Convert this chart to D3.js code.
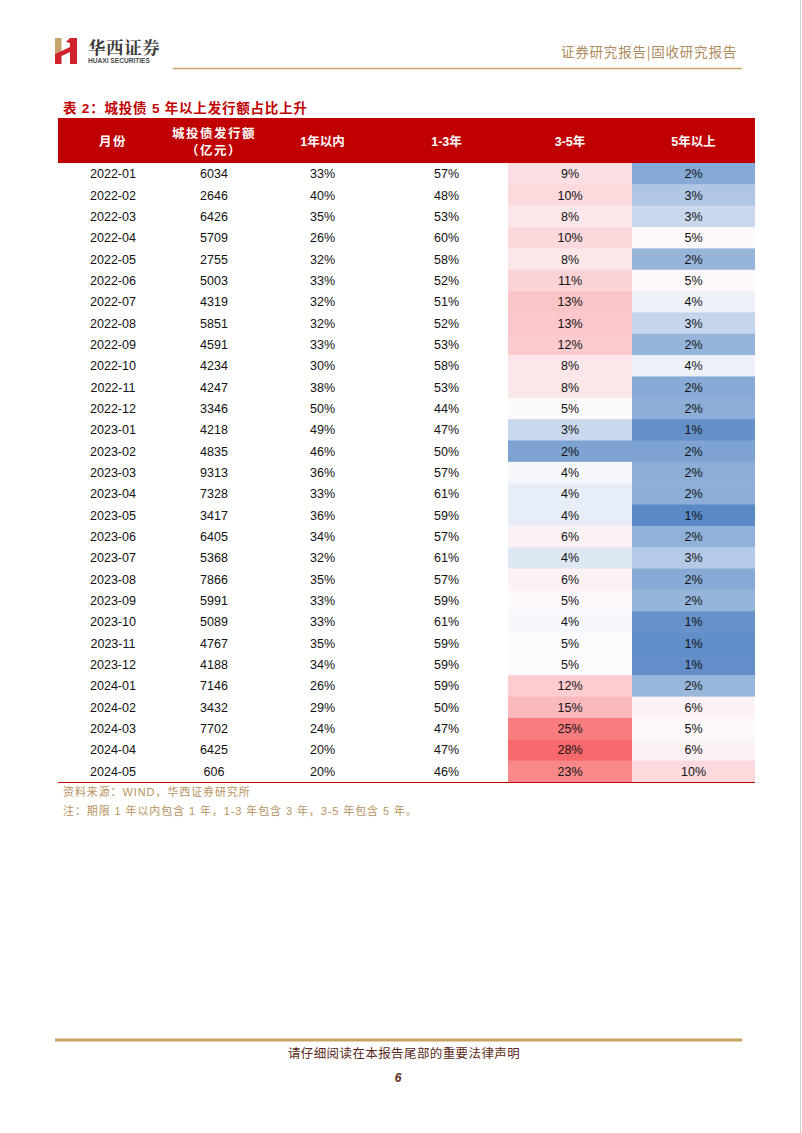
<!DOCTYPE html>
<html>
<head>
<meta charset="utf-8">
<script src="https://cdn.jsdelivr.net/npm/d3@7"></script>
<style>
  body { margin: 0; background: #fff; }
</style>
</head>
<body>
<div id="page"></div>
<script>
const months = [
  "2022-01", "2022-02", "2022-03", "2022-04", "2022-05", "2022-06", "2022-07", "2022-08",
  "2022-09", "2022-10", "2022-11", "2022-12", "2023-01", "2023-02", "2023-03", "2023-04",
  "2023-05", "2023-06", "2023-07", "2023-08", "2023-09", "2023-10", "2023-11", "2023-12",
  "2024-01", "2024-02", "2024-03", "2024-04", "2024-05"
];
// 城投债发行额（亿元）
const issuance = [
  6034, 2646, 6426, 5709, 2755, 5003, 4319, 5851, 4591, 4234, 4247, 3346, 4218, 4835,
  9313, 7328, 3417, 6405, 5368, 7866, 5991, 5089, 4767, 4188, 7146, 3432, 7702, 6425, 606
];
// 占比 (%)
const within1y = [
  33, 40, 35, 26, 32, 33, 32, 32, 33, 30, 38, 50, 49, 46, 36, 33, 36, 34, 32, 35, 33, 33,
  35, 34, 26, 29, 24, 20, 20
];
const y1to3 = [
  57, 48, 53, 60, 58, 52, 51, 52, 53, 58, 53, 44, 47, 50, 57, 61, 59, 57, 61, 57, 59, 61,
  59, 59, 59, 50, 47, 47, 46
];
// the two shaded columns: shown rounded, estimated a little finer from the cell shading
const y3to5 = [
  9.0, 10.0, 8.0, 10.2, 8.0, 11.0, 13.2, 12.9, 12.3, 7.8, 8.0, 4.9, 3.4, 1.9, 4.26, 4.0,
  4.0, 6.0, 3.8, 6.0, 5.0, 4.3, 4.8, 4.8, 12.0, 15.0, 25.0, 28.0, 23.0
];
const over5y = [
  2.1, 2.9, 3.4, 5.0, 2.4, 5.0, 4.1, 3.3, 2.4, 4.1, 2.1, 2.2, 1.4, 1.9, 2.2, 2.2, 1.2,
  2.3, 3.0, 2.1, 2.4, 1.45, 1.3, 1.35, 2.45, 6.0, 5.0, 6.2, 10.0
];
const headers = ["月份", ["城投债发行额", "（亿元）"], "1年以内", "1-3年", "3-5年", "5年以上"];

const width = 802, height = 1133;
const font = "'Liberation Sans', 'Noto Sans CJK SC', sans-serif";
const cjk = "'Noto Sans CJK SC', sans-serif";
const red = "#C00000", gold = "#C9A165", tan = "#B8935F";
const colEdges = [58, 168, 260, 385, 508, 632, 755];
const headTop = 118, rowsTop = 163, rowsBottom = 782;
const colorMid = 4.4;

const svg = d3.select("#page").append("svg")
  .attr("width", width)
  .attr("height", height)
  .attr("viewBox", [0, 0, width, height]);

// page edge
svg.append("line")
  .attr("x1", 800.5).attr("x2", 800.5).attr("y1", 0).attr("y2", height)
  .attr("stroke", "#cfcfcf");

// ---- page header ----
const logo = svg.append("g");
logo.append("path")
  .attr("d", "M55,38 L61.5,38 L61.5,51 L55,54 Z")
  .attr("fill", "#C9A56E");
logo.append("path")
  .attr("d", "M55,54 L61.5,51 L61.5,64 L55,64 Z M61.5,51 L70,47 L70,52 L61.5,56 Z M70,38 L77,38 L77,64 L70,64 Z M66,42 L70,38 L70,43 Z")
  .attr("fill", "#D0202A");
svg.append("text")
  .attr("x", 88).attr("y", 54)
  .attr("font-family", "'Noto Serif CJK SC', " + cjk)
  .attr("font-weight", "bold")
  .attr("font-size", 17.5)
  .attr("letter-spacing", 0.6)
  .attr("fill", "#3d3a3a")
  .text("华西证券");
svg.append("text")
  .attr("x", 88).attr("y", 63)
  .attr("font-family", font)
  .attr("font-weight", "bold")
  .attr("font-size", 6.6)
  .attr("fill", "#4a4a4a")
  .text("HUAXI SECURITIES");
svg.append("text")
  .attr("x", 737).attr("y", 57)
  .attr("text-anchor", "end")
  .attr("font-family", cjk)
  .attr("font-size", 13.5)
  .attr("letter-spacing", 0.8)
  .attr("fill", "#AE8B5C")
  .text("证券研究报告|固收研究报告");
svg.append("line")
  .attr("x1", 173).attr("x2", 742).attr("y1", 68.5).attr("y2", 68.5)
  .attr("stroke", gold).attr("stroke-width", 1.5);

// ---- table title ----
svg.append("text")
  .attr("x", 63).attr("y", 113)
  .attr("font-family", font)
  .attr("font-weight", "bold")
  .attr("font-size", 13.5)
  .attr("letter-spacing", 0.8)
  .attr("fill", red)
  .text("表 2：城投债 5 年以上发行额占比上升");

// ---- header row ----
svg.append("rect")
  .attr("x", colEdges[0]).attr("y", headTop)
  .attr("width", colEdges[6] - colEdges[0]).attr("height", rowsTop - headTop)
  .attr("fill", red);

const head = svg.append("g")
  .attr("font-family", font)
  .attr("font-weight", "bold")
  .attr("font-size", 12.5)
  .attr("fill", "#fff")
  .attr("text-anchor", "middle");

headers.forEach((h, i) => {
  const cx = (colEdges[i] + colEdges[i + 1]) / 2;
  const lines = Array.isArray(h) ? h : [h];
  const mid = (headTop + rowsTop) / 2 + 1;
  lines.forEach((t, j) => {
    head.append("text")
      .attr("x", cx)
      .attr("y", mid + (j - (lines.length - 1) / 2) * 17)
      .attr("dy", "0.36em")
      .attr("letter-spacing", /^[\d-]/.test(t) ? 0 : 1.5)
      .text(t);
  });
});

// ---- body rows ----
const y = d3.scaleBand().domain(months).range([rowsTop, rowsBottom]);

const shaded = y3to5.concat(over5y);
const color = d3.scaleLinear()
  .domain([d3.min(shaded), colorMid, d3.max(shaded)])
  .range(["#5A8AC6", "#FCFCFF", "#F8696B"]);

const pct = v => `${Math.round(v)}%`;
const columns = [
  { values: months, fmt: d => d },
  { values: issuance, fmt: d => d },
  { values: within1y, fmt: pct },
  { values: y1to3, fmt: pct },
  { values: y3to5, fmt: pct, fill: true },
  { values: over5y, fmt: pct, fill: true }
];

const body = svg.append("g");

columns.forEach((c, i) => {
  if (!c.fill) return;
  body.append("g")
    .selectAll("rect")
    .data(months)
    .join("rect")
    .attr("x", colEdges[i])
    .attr("y", d => y(d))
    .attr("width", colEdges[i + 1] - colEdges[i])
    .attr("height", y.bandwidth() + 0.5)
    .attr("fill", (d, k) => color(c.values[k]));
});

columns.forEach((c, i) => {
  const cx = (colEdges[i] + colEdges[i + 1]) / 2;
  body.append("g")
    .attr("font-family", font)
    .attr("font-size", 12.5)
    .attr("fill", "#111")
    .attr("text-anchor", "middle")
    .selectAll("text")
    .data(months)
    .join("text")
    .attr("x", cx)
    .attr("y", d => y(d) + y.bandwidth() / 2)
    .attr("dy", "0.36em")
    .text((d, k) => c.fmt(c.values[k]));
});

svg.append("line")
  .attr("x1", colEdges[0]).attr("x2", colEdges[6])
  .attr("y1", rowsBottom + 0.5).attr("y2", rowsBottom + 0.5)
  .attr("stroke", red).attr("stroke-width", 1);

// ---- notes ----
const notes = ["资料来源：WIND，华西证券研究所", "注：期限 1 年以内包含 1 年，1-3 年包含 3 年，3-5 年包含 5 年。"];
svg.append("g")
  .attr("font-family", font)
  .attr("font-size", 11)
  .attr("fill", tan)
  .selectAll("text")
  .data(notes)
  .join("text")
  .attr("x", 63)
  .attr("y", (d, i) => 796 + i * 18.5)
  .attr("letter-spacing", 0.9)
  .text(d => d);

// ---- page footer ----
svg.append("line")
  .attr("x1", 55).attr("x2", 742).attr("y1", 1040).attr("y2", 1040)
  .attr("stroke", gold).attr("stroke-width", 3);
svg.append("text")
  .attr("x", 404).attr("y", 1057.5)
  .attr("text-anchor", "middle")
  .attr("font-family", cjk)
  .attr("font-size", 12.5)
  .attr("letter-spacing", 0.4)
  .attr("fill", "#5a2a20")
  .text("请仔细阅读在本报告尾部的重要法律声明");
svg.append("text")
  .attr("x", 398).attr("y", 1082)
  .attr("text-anchor", "middle")
  .attr("font-family", font)
  .attr("font-weight", "bold")
  .attr("font-style", "italic")
  .attr("font-size", 12)
  .attr("fill", "#5a2a20")
  .text("6");
</script>
</body>
</html>
